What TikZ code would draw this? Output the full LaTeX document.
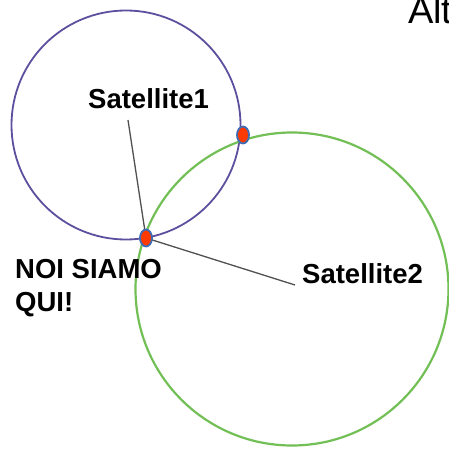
\documentclass[tikz,border=0pt]{standalone}
\usepackage{fontspec}
\setmainfont{Liberation Sans}
\usetikzlibrary{shapes.geometric}
\definecolor{purp}{HTML}{5E4F9E}
\definecolor{grn}{HTML}{72BF55}
\definecolor{dotred}{HTML}{FF3A00}
\definecolor{dotblue}{HTML}{3F6DB5}
\definecolor{lgray}{HTML}{505050}
\tikzset{
  dotnode/.style={ellipse, draw=dotblue, line width=1.8pt, fill=dotred, minimum width=12pt, minimum height=17pt, inner sep=0pt},
  lbl/.style={font=\bfseries\fontsize{27.5}{34}\selectfont, inner sep=0pt, anchor=base west},
  conn/.style={lgray, line width=1.3pt}
}
\begin{document}
\begin{tikzpicture}[x=1pt,y=-1pt]
\useasboundingbox (0,0) rectangle (449,449);
\begin{scope}
\clip (0,0) rectangle (449,449);
\draw[purp, line width=1.8pt] (126,125) circle (114.5);
\draw[grn, line width=2.2pt] (292,289) circle (156.5);
\node[font=\fontsize{38}{40}\selectfont, inner sep=0pt, anchor=base west] (alt) at (408,24) {Alt};
\end{scope}
\coordinate (c1) at (146,238);
\coordinate (c2) at (243,135);
\coordinate (s1) at (128,120);
\coordinate (s2) at (295,285);
\draw[conn] (s1) -- (c1);
\draw[conn] (c1) -- (s2);
\node[dotnode] (d1) at (c1) {};
\node[dotnode] (d2) at (c2) {};
\node[lbl] (sat1) at (88,109) {Satellite1};
\node[lbl] (sat2) at (302,283) {Satellite2};
\node[lbl] (noi1) at (15,278) {NOI SIAMO};
\node[lbl] (noi2) at (15,311) {QUI!};
\end{tikzpicture}
\end{document}
